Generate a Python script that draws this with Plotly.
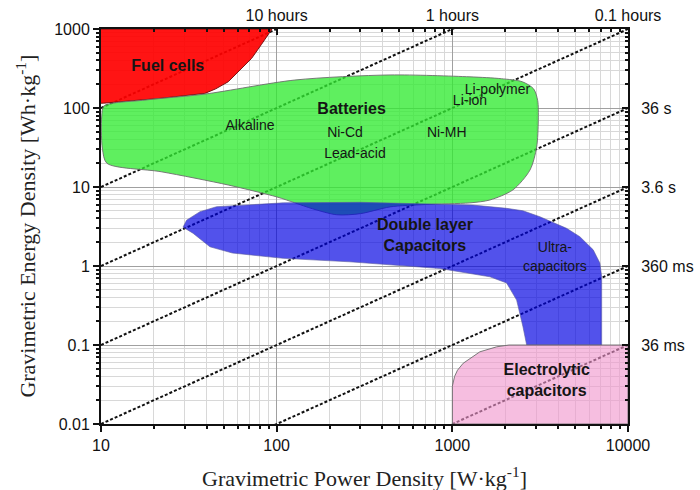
import plotly.graph_objects as go

# ---------------- data ----------------
# constant discharge-time lines: E = P * t  (t in hours)
discharge_hours = [10, 1, 0.1, 0.01, 0.001, 0.0001, 0.00001]
line_power = [10, 10000]

top_tick_power = [100, 1000, 10000]
top_tick_text = ["10 hours", "1 hours", "0.1 hours"]
right_tick_energy = [100, 10, 1, 0.1]
right_tick_text = ["36 s", "3.6 s", "360 ms", "36 ms"]

x_tick_vals = [10, 100, 1000, 10000]
x_tick_text = ["10", "100", "1000", "10000"]
y_tick_vals = [0.01, 0.1, 1, 10, 100, 1000]
y_tick_text = ["0.01", "0.1", "1", "10", "100", "1000"]

fuel_P = [10, 94, 82, 72, 53, 45, 39, 22, 10.3, 10]
fuel_E = [1000, 1000, 640, 425, 215, 175, 153, 133, 115, 115]

batt_P = [10.4, 17.8, 39, 127, 442, 1260, 1900, 2500, 2900, 3060, 3085, 3020, 2767, 2213,
          1637, 1260, 700, 442, 300, 220, 160, 127, 100, 53, 22, 10.8, 10.2, 10.05, 10.1, 10.4]
batt_E = [106, 126, 150, 226, 262, 248, 235, 215, 175, 125, 70, 32, 16.4, 9.2,
          6.85, 6.3, 6.0, 5.6, 4.6, 4.45, 5.3, 6.3, 7.5, 10.6, 15.6, 20, 30, 50, 80, 106]

dlc_P = [29.3, 30.7, 36.6, 45.5, 109, 300, 1310, 2037, 2524, 3152, 4467, 5321, 6339, 6918, 7080,
         7080, 2650, 2524, 2323, 2037, 1637, 1058, 849, 261, 109, 56, 41.7, 33.4, 29.3]
dlc_E = [3.1, 3.8, 4.87, 5.63, 6.3, 6.4, 5.9, 5.37, 5.0, 4.2, 3.0, 2.35, 1.6, 1.09, 0.73,
         0.1, 0.1, 0.17, 0.37, 0.61, 0.73, 0.85, 0.93, 1.13, 1.25, 1.46, 1.75, 2.6, 3.1]

elec_P = [1000, 1000, 1030, 1070, 1153, 1435, 1786, 2100, 10000, 10000, 1000]
elec_E = [0.01, 0.03, 0.04, 0.048, 0.0587, 0.082, 0.0948, 0.1, 0.1, 0.01, 0.01]

labels_bold = ["Fuel cells", "Batteries", "Double layer<br>Capacitors", "Electrolytic<br>capacitors"]
labels_bold_P = [24, 267, 698, 3443]
labels_bold_E = [333, 94, 2.35, 0.0343]

labels_reg = ["Alkaline", "Ni-Cd", "Lead-acid", "Ni-MH", "Li-ion", "Li-polymer", "Ultra-<br>capacitors"]
labels_reg_P = [70.5, 245, 279, 929, 1260, 1807, 3837]
labels_reg_E = [58, 47.8, 25.9, 47.8, 120, 169, 1.26]

x_title = "Gravimetric Power Density [W·kg<sup>-1</sup>]"
y_title = "Gravimetric Energy Density [Wh·kg<sup>-1</sup>]"

# ---------------- figure ----------------
SANS = "Liberation Sans, Arial, sans-serif"
SERIF = "Liberation Serif, Times New Roman, serif"

fig = go.Figure()

for t in discharge_hours:
    fig.add_trace(go.Scatter(
        x=line_power, y=[p * t for p in line_power], mode="lines",
        line=dict(color="#111111", width=2, dash="3px,2px"),
        hoverinfo="skip", showlegend=False))

fig.add_trace(go.Scatter(x=fuel_P, y=fuel_E, fill="toself", mode="lines",
                         fillcolor="rgba(255,0,0,0.92)", line=dict(color="#7a1010", width=1),
                         hoverinfo="skip", showlegend=False))
fig.add_trace(go.Scatter(x=batt_P, y=batt_E, fill="toself", mode="lines",
                         fillcolor="rgba(50,235,50,0.78)",
                         line=dict(color="rgba(110,110,110,0.9)", width=1, shape="spline", smoothing=0.8),
                         hoverinfo="skip", showlegend=False))
fig.add_trace(go.Scatter(x=dlc_P, y=dlc_E, fill="toself", mode="lines",
                         fillcolor="rgba(0,0,225,0.68)",
                         line=dict(color="rgba(90,90,160,0.6)", width=1),
                         hoverinfo="skip", showlegend=False))
fig.add_trace(go.Scatter(x=elec_P, y=elec_E, fill="toself", mode="lines",
                         fillcolor="rgba(240,150,205,0.62)",
                         line=dict(color="rgba(110,110,110,0.9)", width=1),
                         hoverinfo="skip", showlegend=False))

fig.add_trace(go.Scatter(x=labels_bold_P, y=labels_bold_E, mode="text",
                         text=["<b>%s</b>" % s for s in labels_bold],
                         textfont=dict(family=SANS, size=16, color="#151515"),
                         hoverinfo="skip", showlegend=False))
fig.add_trace(go.Scatter(x=labels_reg_P, y=labels_reg_E, mode="text", text=labels_reg,
                         textfont=dict(family=SANS, size=14, color="#151515"),
                         hoverinfo="skip", showlegend=False))

# invisible trace to activate the top/right axes
fig.add_trace(go.Scatter(x=[100], y=[1], xaxis="x2", yaxis="y2", mode="markers",
                         marker=dict(opacity=0), hoverinfo="skip", showlegend=False))

x_minor = [m * 10 ** d for d in range(1, 4) for m in range(2, 10)]
y_minor = [m * 10.0 ** d for d in range(-2, 3) for m in range(2, 10)]

axis_font = dict(family=SANS, size=16, color="#111111")

fig.update_layout(
    width=700, height=490,
    margin=dict(l=101, r=72, t=29, b=66),
    paper_bgcolor="white", plot_bgcolor="white",
    xaxis=dict(type="log", range=[1, 4], tickmode="array", tickvals=x_tick_vals, ticktext=x_tick_text,
               ticks="outside", ticklen=6, tickwidth=1.5, tickcolor="#111", automargin=False,
               showline=True, linewidth=2, linecolor="#111", mirror=False,
               showgrid=True, gridcolor="#a0a0a0", gridwidth=1, zeroline=False,
               tickfont=axis_font,
               minor=dict(tickmode="array", tickvals=x_minor, ticks="outside", ticklen=3,
                          tickcolor="#111", showgrid=True, gridcolor="#d8d8d8", gridwidth=1)),
    yaxis=dict(type="log", range=[-2, 3], tickmode="array", tickvals=y_tick_vals, ticktext=y_tick_text,
               ticks="outside", ticklen=6, tickwidth=1.5, tickcolor="#111", automargin=False,
               showline=True, linewidth=2, linecolor="#111", mirror=False,
               showgrid=True, gridcolor="#a0a0a0", gridwidth=1, zeroline=False,
               tickfont=axis_font,
               minor=dict(tickmode="array", tickvals=y_minor, ticks="outside", ticklen=3,
                          tickcolor="#111", showgrid=True, gridcolor="#d8d8d8", gridwidth=1)),
    xaxis2=dict(type="log", range=[1, 4], overlaying="x", side="top", anchor="y", automargin=False,
                tickmode="array", tickvals=top_tick_power, ticktext=top_tick_text,
                ticks="inside", ticklen=6, tickwidth=1.5, tickcolor="#111",
                showline=True, linewidth=2, linecolor="#111", showgrid=False, zeroline=False,
                tickfont=axis_font,
                minor=dict(tickmode="array", tickvals=x_minor, ticks="inside", ticklen=3,
                           tickcolor="#111", showgrid=False)),
    yaxis2=dict(type="log", range=[-2, 3], overlaying="y", side="right", anchor="x", automargin=False,
                tickmode="array", tickvals=right_tick_energy, ticktext=right_tick_text,
                ticks="inside", ticklen=6, tickwidth=1.5, tickcolor="#111",
                showline=True, linewidth=2, linecolor="#111", showgrid=False, zeroline=False,
                tickfont=axis_font, ticklabelstandoff=8,
                minor=dict(tickmode="array", tickvals=y_minor, ticks="inside", ticklen=3,
                           tickcolor="#111", showgrid=False)),
    annotations=[
        dict(text=x_title, xref="paper", yref="paper", x=0.5, y=-0.134,
             xanchor="center", yanchor="middle", showarrow=False,
             font=dict(family=SERIF, size=22, color="#222")),
        dict(text=y_title, xref="paper", yref="paper", x=-0.144, y=0.5, textangle=-90,
             xanchor="center", yanchor="middle", showarrow=False,
             font=dict(family=SERIF, size=22, color="#222")),
    ],
    showlegend=False,
)

fig.write_html("out.html", config={"displayModeBar": False},
               post_script="document.body.style.margin='0';")
